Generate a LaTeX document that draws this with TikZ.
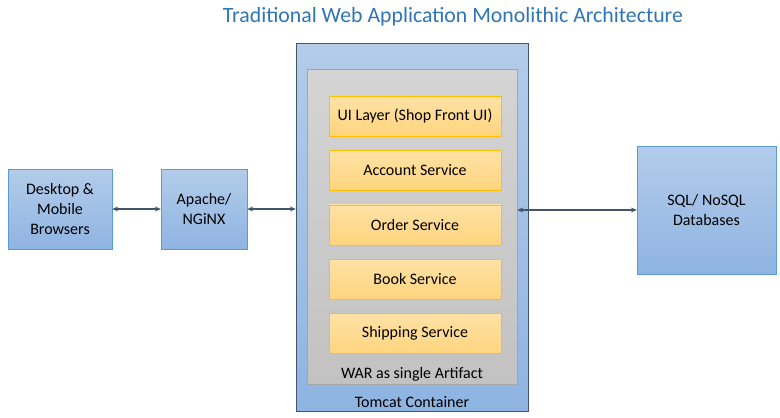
\documentclass[tikz,border=0pt]{standalone}
\usepackage{fontspec}
\setmainfont{Carlito}
\usetikzlibrary{positioning}
\usetikzlibrary{arrows.meta}

\definecolor{bluetop}{HTML}{B3CCEA}
\definecolor{bluebot}{HTML}{8FB4E2}
\definecolor{blueline}{HTML}{5B9BD5}
\definecolor{tomcatline}{HTML}{44546A}
\definecolor{graytop}{HTML}{D4D4D4}
\definecolor{graybot}{HTML}{C2C2C2}
\definecolor{grayline}{HTML}{A5A5A5}
\definecolor{yellowtop}{HTML}{FFE2A6}
\definecolor{yellowbot}{HTML}{FFD47E}
\definecolor{yellowline}{HTML}{FFC000}
\definecolor{titleblue}{HTML}{2E75B6}
\definecolor{arrowgray}{HTML}{44546A}

\begin{document}
\begin{tikzpicture}[
  x=1pt, y=-1pt,
  node distance=14pt,
  font=\fontsize{16}{20}\selectfont,
  bluebox/.style={draw=blueline,top color=bluetop,bottom color=bluebot,align=center,inner sep=0pt},
  svcbox/.style={draw=yellowline,top color=yellowtop,bottom color=yellowbot,minimum width=172pt,minimum height=40pt,inner sep=0pt},
  link/.style={draw=arrowgray,line width=1.6pt,{Stealth[length=6pt,width=5pt]}-{Stealth[length=6pt,width=5pt]}}
]
\useasboundingbox (0,0) rectangle (780,418);

\node[text=titleblue,font=\fontsize{21.8}{26}\selectfont] (title) at (453,17) {Traditional Web Application Monolithic Architecture};

\node[bluebox,minimum width=104pt,minimum height=80pt] (browsers) at (60,209) {Desktop \&\\Mobile\\Browsers};
\node[bluebox,minimum width=86pt,minimum height=80pt] (apache) at (204,209) {Apache/\\NGiNX};

\node[draw=tomcatline,top color=bluetop,bottom color=bluebot,minimum width=232pt,minimum height=368pt,inner sep=0pt] (tomcat) at (412,227) {};
\node (tomcatlabel) at (412,402) {Tomcat Container};
\node[draw=grayline,top color=graytop,bottom color=graybot,minimum width=210pt,minimum height=315pt,inner sep=0pt] (war) at (412,226.5) {};
\node (warlabel) at (412,374) {WAR as single Artifact};

\node[svcbox] (ui) at (415,116) {UI Layer (Shop Front UI)};
\node[svcbox,below=of ui] (account) {Account Service};
\node[svcbox,below=of account] (order) {Order Service};
\node[svcbox,below=of order] (book) {Book Service};
\node[svcbox,below=of book] (shipping) {Shipping Service};

\node[bluebox,minimum width=139pt,minimum height=128pt] (db) at (706.5,210) {SQL/ NoSQL\\Databases};

\path (browsers) edge[link] (apache)
(apache) edge[link] (apache.east -| tomcat.west)
(db.west -| war.east) edge[link] (db.west)
;

\end{tikzpicture}
\end{document}
